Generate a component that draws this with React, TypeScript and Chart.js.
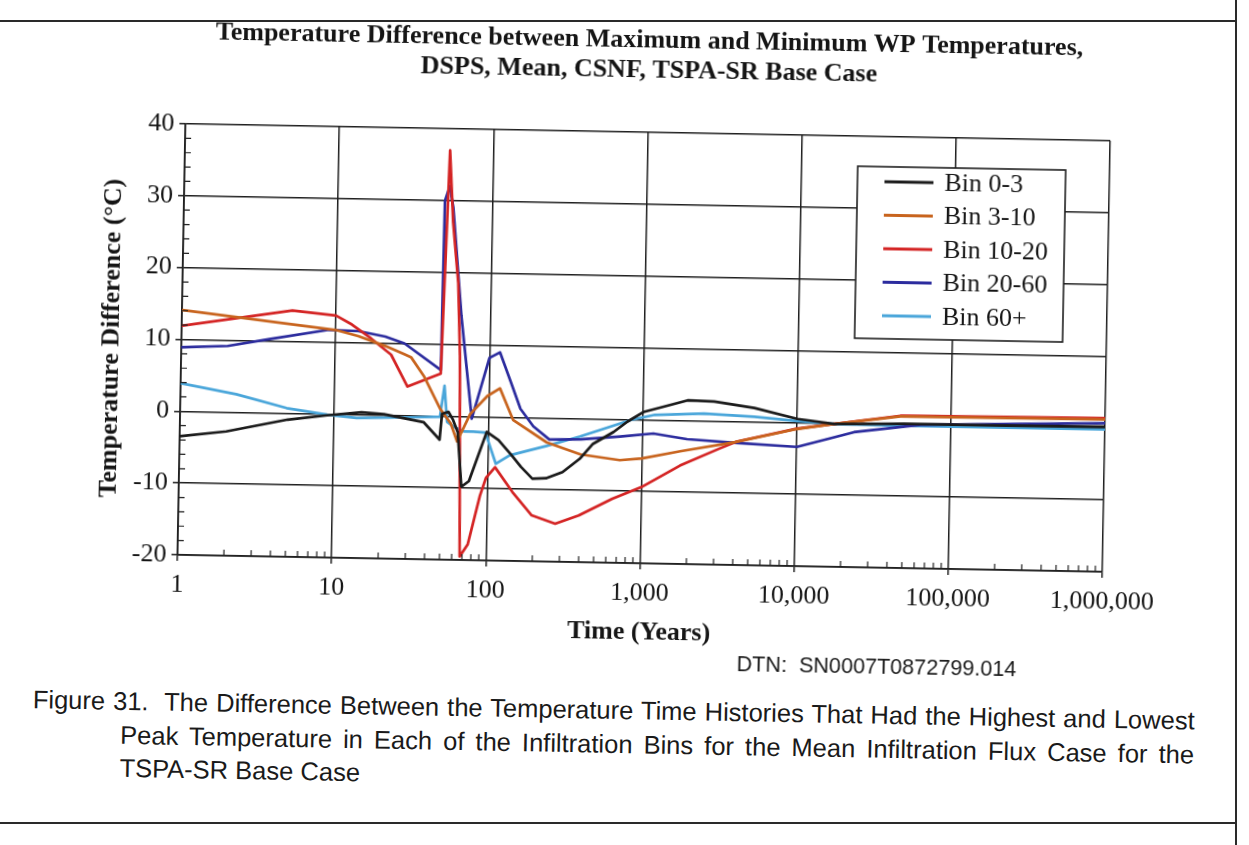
import React, { useEffect, useRef } from 'react';
import { Chart, registerables } from 'chart.js';

Chart.register(...registerables);

// ---------- text ----------
const TITLE_LINES = [
  'Temperature Difference between Maximum and Minimum WP Temperatures,',
  'DSPS, Mean, CSNF, TSPA-SR Base Case',
];
const X_TITLE = 'Time (Years)';
const Y_TITLE = 'Temperature Difference (\u00b0C)';
const DTN_TEXT = 'DTN:  SN0007T0872799.014';
const CAPTION_LINES = [
  'Figure 31.\u00a0 The Difference Between the Temperature Time Histories That Had the Highest and Lowest',
  'Peak Temperature in Each of the Infiltration Bins for the Mean Infiltration Flux Case for the',
  'TSPA-SR Base Case',
];

// ---------- axes ----------
const X_TICK_VALUES = [1, 10, 100, 1000, 10000, 100000, 1000000];
const X_TICK_LABELS = ['1', '10', '100', '1,000', '10,000', '100,000', '1,000,000'];
const Y_TICK_VALUES = [-20, -10, 0, 10, 20, 30, 40];
const Y_TICK_LABELS = ['-20', '-10', '0', '10', '20', '30', '40'];

// ---------- series ----------
const SERIES_LABELS = ['Bin 0-3', 'Bin 3-10', 'Bin 10-20', 'Bin 20-60', 'Bin 60+'];
const SERIES_COLORS = ['#1b1b1b', '#c8641e', '#d42424', '#2c2c9e', '#4aa6da'];

const bin0to3Years = [1, 2, 5, 9, 15, 21, 38, 48.5, 50, 55, 59, 63.5, 68, 76, 98, 117, 143, 165, 196, 240, 307, 396, 480, 650, 800, 1020, 1950, 2900, 5300, 10100, 17500, 50000, 200000, 1000000];
const bin0to3Diff = [-3.5, -2.7, -0.9, -0.2, 0.3, 0.1, -0.9, -3.3, 0.3, 0.6, -0.5, -2.2, -9.8, -9.0, -2.1, -3.2, -5.3, -6.9, -8.5, -8.4, -7.5, -5.6, -3.5, -1.8, -0.3, 1.1, 2.8, 2.7, 1.9, 0.5, -0.1, 0.1, 0.1, 0.2];

const bin3to10Years = [1, 10, 14, 21, 28, 31, 38, 48.5, 57, 63, 76, 98, 118, 145, 240, 400, 720, 1000, 1770, 4000, 10100, 17500, 47000, 1000000];
const bin3to10Diff = [14.1, 11.7, 10.9, 9.6, 8.5, 8.1, 5.4, 1.0, -1.0, -3.5, 0.3, 2.9, 4.0, -0.4, -3.4, -5.0, -5.7, -5.4, -4.3, -2.9, -0.9, -0.1, 1.1, 1.2];

const bin10to20Years = [1, 5.2, 10, 12.7, 17, 23, 29.6, 48.5, 52.5, 56, 61.5, 64.3, 67.6, 76, 90, 98, 112, 146, 196, 279, 396, 650, 1000, 1770, 3200, 4100, 10100, 17500, 47000, 1000000];
const bin10to20Diff = [11.9, 14.3, 13.7, 12.5, 10.6, 8.4, 4.0, 5.9, 37, 27, 18.5, 8.4, -19.5, -17.8, -11, -8.5, -7, -10.4, -13.6, -14.7, -13.5, -11.1, -9.4, -6.3, -3.8, -2.8, -0.85, -0.1, 1.2, 1.4];

const bin20to60Years = [1, 2, 3.8, 9, 14, 21, 28, 48.5, 49.3, 52.8, 56, 65, 78, 100, 117, 139, 161, 196, 250, 400, 720, 1180, 1950, 4100, 10100, 23600, 63800, 1000000];
const bin20to60Diff = [8.9, 9.2, 10.3, 11.7, 11.6, 10.9, 10.0, 6.4, 30, 32, 29, 14, -0.3, 8.2, 9.0, 4.8, 1.2, -1.2, -3.0, -2.9, -2.4, -1.9, -2.6, -3.0, -3.4, -1.2, 0, 0.7];

const bin60plusYears = [1, 2.3, 4.9, 9, 14, 28, 48.5, 51.5, 54, 60, 70, 80, 96, 113, 139, 240, 396, 836, 1200, 2500, 5300, 10100, 17500, 50000, 1000000];
const bin60plusDiff = [3.9, 2.5, 0.7, -0.1, -0.5, -0.3, -0.1, 4.2, -0.8, -1.5, -2.1, -2.1, -2.2, -6.5, -5.3, -3.9, -2.5, -0.1, 0.7, 1.0, 0.7, 0.2, -0.1, -0.2, -0.2];

const SERIES_YEARS = [bin0to3Years, bin3to10Years, bin10to20Years, bin20to60Years, bin60plusYears];
const SERIES_VALUES = [bin0to3Diff, bin3to10Diff, bin10to20Diff, bin20to60Diff, bin60plusDiff];

// ---------- styling / layout ----------
const SERIF = '"Liberation Serif", "Times New Roman", Times, serif';
const SANS = '"Liberation Sans", Arial, Helvetica, sans-serif';
const INK = '#151515';
const GRID = '#1f1f1f';
const TILT_DEG = 1.05; // the reference is a slightly rotated scan
const CANVAS_W = 1249;
const CANVAS_H = 650;
const FONT_SIZE = 26;

const minorTicksPlugin = {
  id: 'minorTicks',
  afterDraw(chart: any) {
    const { ctx, chartArea, scales } = chart;
    const x = scales.x;
    const y = scales.y;
    ctx.save();
    ctx.strokeStyle = GRID;
    ctx.lineWidth = 1.2;
    ctx.beginPath();
    for (let d = 0; d < X_TICK_VALUES.length - 1; d++) {
      for (let k = 2; k <= 9; k++) {
        const px = x.getPixelForValue(X_TICK_VALUES[d] * k);
        ctx.moveTo(px, chartArea.bottom);
        ctx.lineTo(px, chartArea.bottom - 6);
      }
    }
    for (let i = 0; i < Y_TICK_VALUES.length - 1; i++) {
      for (let v = Y_TICK_VALUES[i] + 2; v < Y_TICK_VALUES[i + 1]; v += 2) {
        const py = y.getPixelForValue(v);
        ctx.moveTo(chartArea.left, py);
        ctx.lineTo(chartArea.left + 6, py);
      }
    }
    ctx.stroke();
    ctx.restore();
  },
};

const boxLegendPlugin = {
  id: 'boxLegend',
  afterDraw(chart: any) {
    const { ctx } = chart;
    const left = 853;
    const top = 162;
    const width = 208;
    const height = 172;
    ctx.save();
    ctx.fillStyle = '#ffffff';
    ctx.fillRect(left, top, width, height);
    ctx.lineWidth = 1.6;
    ctx.strokeStyle = GRID;
    ctx.strokeRect(left, top, width, height);
    ctx.font = `${FONT_SIZE}px ${SERIF}`;
    ctx.textBaseline = 'middle';
    ctx.textAlign = 'left';
    chart.data.datasets.forEach((ds: any, i: number) => {
      const cy = top + 15 + i * 33.5;
      ctx.strokeStyle = ds.borderColor;
      ctx.lineWidth = 3;
      ctx.beginPath();
      ctx.moveTo(left + 27, cy);
      ctx.lineTo(left + 76, cy);
      ctx.stroke();
      ctx.fillStyle = INK;
      ctx.fillText(ds.label, left + 87, cy + 1);
    });
    ctx.restore();
  },
};

function TemperatureChart() {
  const canvasRef = useRef<HTMLCanvasElement | null>(null);

  useEffect(() => {
    const canvas = canvasRef.current;
    if (!canvas) return;
    const datasets = SERIES_LABELS.map((label, i) => ({
      label,
      data: SERIES_YEARS[i].map((t, j) => ({ x: t, y: SERIES_VALUES[i][j] })),
      borderColor: SERIES_COLORS[i],
      backgroundColor: SERIES_COLORS[i],
      borderWidth: 2.7,
      borderJoinStyle: 'round' as const,
      pointRadius: 0,
      tension: 0,
      fill: false,
    }));

    const tickFont = { family: SERIF, size: FONT_SIZE, weight: 'normal' as const, lineHeight: 1.2 };
    const titleFont = { family: SERIF, size: FONT_SIZE, weight: 'bold' as const, lineHeight: 1.15 };

    const chart = new Chart(canvas, {
      type: 'line',
      data: { datasets },
      options: {
        responsive: false,
        animation: false,
        events: [],
        layout: { padding: { left: 0, right: 144, top: 0, bottom: 0 } },
        plugins: {
          legend: { display: false },
          tooltip: { enabled: false },
          title: {
            display: true,
            fullSize: false,
            text: TITLE_LINES,
            color: INK,
            font: titleFont,
            padding: { top: 25, bottom: 47.2 },
          },
        },
        scales: {
          x: {
            type: 'logarithmic',
            min: 1,
            max: 1000000,
            afterBuildTicks: (scale: any) => {
              scale.ticks = X_TICK_VALUES.map((v) => ({ value: v }));
            },
            afterFit: (scale: any) => {
              scale.height = CANVAS_H - 563;
              scale.paddingLeft = 0;
              scale.paddingRight = 0;
            },
            ticks: {
              autoSkip: false,
              maxRotation: 0,
              padding: 9,
              color: INK,
              font: tickFont,
              callback: (_v: any, i: number) => X_TICK_LABELS[i],
            },
            grid: { color: GRID, lineWidth: 1.5, drawTicks: true, tickLength: 6 },
            border: { color: GRID, width: 1.8 },
            title: {
              display: true,
              text: X_TITLE,
              color: INK,
              font: titleFont,
              padding: { top: 0, bottom: 3 },
            },
          },
          y: {
            type: 'linear',
            min: -20,
            max: 40,
            afterBuildTicks: (scale: any) => {
              scale.ticks = Y_TICK_VALUES.map((v) => ({ value: v }));
            },
            afterFit: (scale: any) => {
              scale.width = 180;
              scale.paddingTop = 0;
              scale.paddingBottom = 0;
            },
            ticks: {
              padding: 5,
              color: INK,
              font: tickFont,
              callback: (_v: any, i: number) => Y_TICK_LABELS[i],
            },
            grid: { color: GRID, lineWidth: 1.5, drawTicks: true, tickLength: 6 },
            border: { color: GRID, width: 1.8 },
            title: {
              display: true,
              text: Y_TITLE,
              color: INK,
              font: titleFont,
              padding: { top: 95, bottom: 0 },
            },
          },
        },
      } as any,
      plugins: [minorTicksPlugin, boxLegendPlugin],
    });

    return () => {
      chart.destroy();
    };
  }, []);

  return (
    <canvas
      ref={canvasRef}
      width={CANVAS_W}
      height={CANVAS_H}
      style={{ position: 'absolute', left: 0, top: 0, width: CANVAS_W, height: CANVAS_H }}
    />
  );
}

export default function App() {
  const justified = {
    display: 'block',
    textAlign: 'justify' as const,
    textAlignLast: 'justify' as const,
    whiteSpace: 'normal' as const,
  };
  const frameLine = { position: 'absolute' as const, background: '#2a2a2a' };
  return (
    <div
      style={{
        position: 'absolute',
        left: 0,
        top: 0,
        width: 1249,
        height: 845,
        overflow: 'hidden',
        background: '#ffffff',
      }}
    >
      <div
        style={{
          position: 'absolute',
          left: 0,
          top: 0,
          width: 1249,
          height: 845,
          transform: `rotate(${TILT_DEG}deg)`,
          transformOrigin: '624.5px 422.5px',
        }}
      >
        <TemperatureChart />
        <div
          style={{
            position: 'absolute',
            left: 741,
            top: 649,
            font: `21.6px ${SANS}`,
            lineHeight: '26px',
            color: '#1a1a1a',
            whiteSpace: 'pre',
          }}
        >
          {DTN_TEXT}
        </div>
        <div
          style={{
            position: 'absolute',
            left: 38,
            top: 694,
            width: 1162,
            font: `25.5px ${SANS}`,
            lineHeight: '33.5px',
            color: '#1a1a1a',
          }}
        >
          <div style={justified}>{CAPTION_LINES[0]}</div>
          <div style={{ ...justified, marginLeft: 88 }}>{CAPTION_LINES[1]}</div>
          <div style={{ marginLeft: 88, whiteSpace: 'nowrap' }}>{CAPTION_LINES[2]}</div>
        </div>
      </div>
      {/* page frame of the scanned sheet */}
      <div style={{ ...frameLine, left: 0, top: 20, width: 1237, height: 2 }} />
      <div style={{ ...frameLine, left: 1235, top: 0, width: 2, height: 845 }} />
      <div style={{ ...frameLine, left: 0, top: 822, width: 1237, height: 2 }} />
    </div>
  );
}
